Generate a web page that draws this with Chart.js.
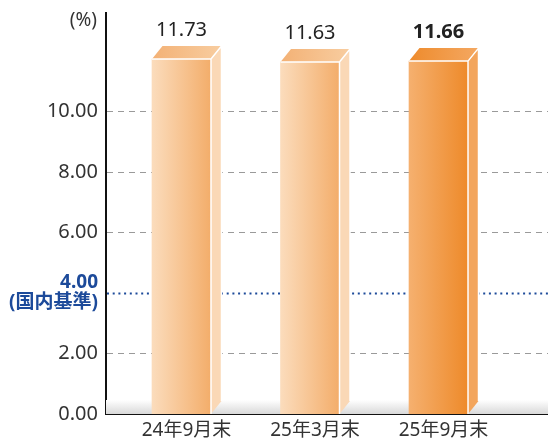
<!DOCTYPE html>
<html>
<head>
<meta charset="utf-8">
<script src="https://cdn.jsdelivr.net/npm/chart.js@4.4.1/dist/chart.umd.min.js"></script>
<style>
  html, body { margin: 0; padding: 0; background: #fff; }
  #wrap { width: 548px; height: 440px; }
</style>
</head>
<body>
<div id="wrap"><canvas id="c" width="548" height="440"></canvas></div>
<script>
// data
const categories = ['24年9月末', '25年3月末', '25年9月末'];
const ratios = [11.73, 11.63, 11.66];
const yTicks = [0, 2, 4, 6, 8, 10];
const baseline = 4; // 国内基準
const baselineLabel = '(国内基準)';
const unitLabel = '(%)';

// looks
const FONT = '"Noto Sans", "Noto Sans CJK JP", sans-serif';
const BLUE = '#1c4a9a';
const DEPTH_X = 10.5, DEPTH_Y = 13;
const BAR_W = 59;
const light = { front: ['#fbdcbc', '#f3ad6a'], top: ['#f3b175', '#f8cda0'], side: '#fad8b6' };
const strong = { front: ['#f5b06f', '#ee8a2a'], top: ['#ee8b2c', '#f4a862'], side: '#f3a55c' };
const last = ratios.length - 1;
const look = i => (i === last ? strong : light);

function frontFill(c) {
    const chart = c.chart;
    const xs = chart.scales && chart.scales.x;
    if (!xs || !chart.chartArea) return look(c.dataIndex).front[1];
    const cx = xs.getPixelForValue(c.dataIndex);
    const g = chart.ctx.createLinearGradient(cx - BAR_W / 2, 0, cx + BAR_W / 2, 0);
    g.addColorStop(0, look(c.dataIndex).front[0]);
    g.addColorStop(1, look(c.dataIndex).front[1]);
    return g;
}

// floor shade + grid lines behind the bars
const backdrop = {
    id: 'backdrop',
    beforeDatasetsDraw(chart) {
        const { ctx, chartArea: a, scales: { y } } = chart;
        ctx.save();
        const g = ctx.createLinearGradient(0, a.bottom - 14, 0, a.bottom);
        g.addColorStop(0, '#ffffff');
        g.addColorStop(1, '#d9d9d9');
        ctx.fillStyle = g;
        ctx.fillRect(a.left, a.bottom - 14, a.right - a.left, 14);
        yTicks.forEach(v => {
            if (v === 0) return;
            const py = Math.round(y.getPixelForValue(v)) + 0.5;
            ctx.beginPath();
            if (v === baseline) {
                ctx.strokeStyle = BLUE; ctx.lineWidth = 2; ctx.setLineDash([2, 3.7]);
            } else {
                ctx.strokeStyle = '#9a9a9a'; ctx.lineWidth = 1; ctx.setLineDash([6, 5]);
            }
            ctx.moveTo(a.left + 1, py);
            ctx.lineTo(a.right, py);
            ctx.stroke();
        });
        ctx.restore();
    }
};

// top and side faces, outlines, value labels
const faces = {
    id: 'faces',
    afterDatasetsDraw(chart) {
        const { ctx } = chart;
        const meta = chart.getDatasetMeta(0);
        ctx.save();
        meta.data.forEach((bar, i) => {
            const p = bar.getProps(['x', 'y', 'base', 'width'], true);
            const l = p.x - p.width / 2, r = p.x + p.width / 2, t = p.y, b = p.base;
            const c = look(i);
            // top face
            const tg = ctx.createLinearGradient(l, 0, r + DEPTH_X, 0);
            tg.addColorStop(0, c.top[0]);
            tg.addColorStop(1, c.top[1]);
            ctx.beginPath();
            ctx.moveTo(l, t);
            ctx.lineTo(l + DEPTH_X, t - DEPTH_Y);
            ctx.lineTo(r + DEPTH_X, t - DEPTH_Y);
            ctx.lineTo(r, t);
            ctx.closePath();
            ctx.fillStyle = tg;
            ctx.fill();
            // side face
            ctx.beginPath();
            ctx.moveTo(r, t);
            ctx.lineTo(r + DEPTH_X, t - DEPTH_Y);
            ctx.lineTo(r + DEPTH_X, b - DEPTH_Y);
            ctx.lineTo(r, b);
            ctx.closePath();
            ctx.fillStyle = c.side;
            ctx.fill();
            // white edges
            ctx.strokeStyle = '#ffffff';
            ctx.lineWidth = 1.5;
            ctx.beginPath();
            ctx.moveTo(l, t);
            ctx.lineTo(r, t);
            ctx.lineTo(r + DEPTH_X, t - DEPTH_Y);
            ctx.moveTo(r, t);
            ctx.lineTo(r, b);
            ctx.moveTo(r + DEPTH_X, t - DEPTH_Y);
            ctx.lineTo(r + DEPTH_X, b - DEPTH_Y);
            ctx.stroke();
            // value
            ctx.fillStyle = '#222';
            ctx.font = (i === last ? 'bold ' : '') + '20px ' + FONT;
            ctx.textAlign = 'center';
            ctx.textBaseline = 'alphabetic';
            ctx.fillText(ratios[i].toFixed(2), p.x, t - DEPTH_Y - 10);
        });
        // unit
        ctx.fillStyle = '#333';
        ctx.font = '19px ' + FONT;
        ctx.textAlign = 'right';
        ctx.fillText(unitLabel, 97, 26);
        ctx.restore();
    }
};

new Chart(document.getElementById('c'), {
    type: 'bar',
    data: {
        datasets: [{
            data: ratios.map((v, i) => ({ x: i, y: v })),
            backgroundColor: frontFill,
            borderWidth: 0,
            barThickness: BAR_W
        }]
    },
    options: {
        responsive: false,
        animation: false,
        events: [],
        layout: { padding: { top: 13, right: 0, left: 0, bottom: 0 } },
        plugins: { legend: { display: false }, tooltip: { enabled: false } },
        scales: {
            x: {
                type: 'linear',
                offset: false,
                min: -0.5875,
                max: 2.852,
                afterBuildTicks: s => { s.ticks = categories.map((_, i) => ({ value: i })); },
                afterFit: s => { s.height = 26; s.paddingLeft = 0; s.paddingRight = 0; },
                grid: { display: false, drawTicks: false, offset: false },
                border: { display: true, color: '#111', width: 2 },
                ticks: {
                    autoSkip: false,
                    maxRotation: 0,
                    padding: 5,
                    labelOffset: 5,
                    color: '#333',
                    font: { family: FONT, size: 19 },
                    callback: v => categories[v]
                }
            },
            y: {
                min: 0,
                max: 13.25,
                afterBuildTicks: s => { s.ticks = yTicks.map(v => ({ value: v })); },
                afterFit: s => { s.width = 106; s.paddingTop = 0; s.paddingBottom = 0; },
                grid: { display: false, drawTicks: false },
                border: { display: true, color: '#111', width: 2 },
                ticks: {
                    padding: 8,
                    color: c => (c.tick && c.tick.value === baseline ? BLUE : '#333'),
                    font: c => (c.tick && c.tick.value === baseline
                        ? { family: FONT, size: 19, weight: 'bold', lineHeight: 1.05 }
                        : { family: FONT, size: 20 }),
                    callback: v => (v === baseline ? [v.toFixed(2), baselineLabel] : v.toFixed(2))
                }
            }
        }
    },
    plugins: [backdrop, faces]
});
</script>
</body>
</html>
